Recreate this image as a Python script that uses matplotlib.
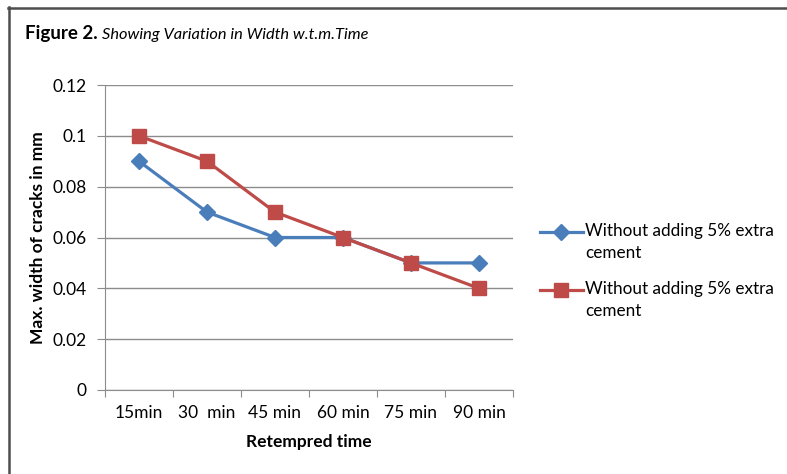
import matplotlib
matplotlib.use("Agg")
import numpy as np
import matplotlib.pyplot as plt
from matplotlib.lines import Line2D
from matplotlib.legend_handler import HandlerLine2D

plt.rcParams['font.family'] = ['Lato', 'DejaVu Sans']

categories = ["15min", "30  min", "45 min", "60 min", "75 min", "90 min"]
series_a = [0.09, 0.07, 0.06, 0.06, 0.05, 0.05]
series_b = [0.10, 0.09, 0.07, 0.06, 0.05, 0.04]
labels = ["Without adding 5% extra\ncement", "Without adding 5% extra\ncement"]
yticks = [0, 0.02, 0.04, 0.06, 0.08, 0.1, 0.12]
ytick_labels = ["0", "0.02", "0.04", "0.06", "0.08", "0.1", "0.12"]


class TopLineHandler(HandlerLine2D):
    """Places the legend handle beside the first line of a two-line label."""
    def __init__(self, dy, **kw):
        super().__init__(**kw)
        self.dy = dy

    def create_artists(self, legend, orig_handle, xdescent, ydescent, width, height,
                       fontsize, trans):
        arts = super().create_artists(legend, orig_handle, xdescent, ydescent, width,
                                      height, fontsize, trans)
        for a in arts:
            a.set_ydata(np.asarray(a.get_ydata(), dtype=float) + self.dy)
        return arts


W, H = 787, 474
fig = plt.figure(figsize=(W / 100, H / 100), dpi=100)
ax = fig.add_axes([105 / W, 1 - 390 / H, 408 / W, 305 / H])

x = list(range(len(categories)))
la, = ax.plot(x, series_a, color="#4A7EBB", lw=2.3, marker="D", ms=8, label=labels[0], zorder=3)
lb, = ax.plot(x, series_b, color="#BE4B48", lw=2.3, marker="s", ms=10.5, label=labels[1], zorder=3)

ax.set_xlim(-0.5, len(categories) - 0.5)
ax.set_ylim(0, 0.12)
ax.set_yticks(yticks)
ax.set_yticklabels(ytick_labels, fontsize=12.5)
ax.yaxis.grid(True, color="#8C8C8C", lw=1)
ax.set_axisbelow(True)

ax.set_xticks([i - 0.5 for i in range(len(categories) + 1)])
ax.set_xticklabels([])
ax.set_xticks(x, minor=True)
ax.set_xticklabels(categories, minor=True, fontsize=12.5)
ax.tick_params(axis="x", which="minor", length=0, pad=11)
ax.tick_params(axis="x", which="major", length=5, color="#8C8C8C")
ax.tick_params(axis="y", length=6, color="#8C8C8C", pad=7)

for s in ["top", "right"]:
    ax.spines[s].set_visible(False)
for s in ["left", "bottom"]:
    ax.spines[s].set_color("#8C8C8C")

ax.set_xlabel("Retempred time", fontsize=12.5, fontweight="bold", labelpad=9)
ax.set_ylabel("Max. width of cracks in mm", fontsize=12.5, fontweight="bold", labelpad=5)

hmap = {la: TopLineHandler(7.6), lb: TopLineHandler(7.6)}
leg = fig.legend(handles=[la, lb], loc="upper left", bbox_to_anchor=(533 / W, 1 - 216 / H),
                 frameon=False, fontsize=12.3, handlelength=2.5, handletextpad=0.15,
                 labelspacing=1.15, borderaxespad=0, handler_map=hmap)
for t in leg.get_texts():
    t.set_linespacing(1.5)

# border lines (top and left)
fig.add_artist(Line2D([8 / W, 1], [1 - 7.5 / H, 1 - 7.5 / H], color="#4D4D4D", lw=1.8))
fig.add_artist(Line2D([8.5 / W, 8.5 / W], [0, 1 - 7 / H], color="#4D4D4D", lw=1.8))

# title
t1 = fig.text(25 / W, 1 - 39 / H, "Figure 2.", fontsize=13.5, fontweight="bold", va="baseline")
fig.canvas.draw()
bb = t1.get_window_extent()
fig.text(bb.x1 / W + 4 / W, 1 - 39 / H, "Showing Variation in Width w.t.m.Time",
         fontsize=11.8, style="italic", va="baseline")

fig.savefig("out.png", dpi=100)
